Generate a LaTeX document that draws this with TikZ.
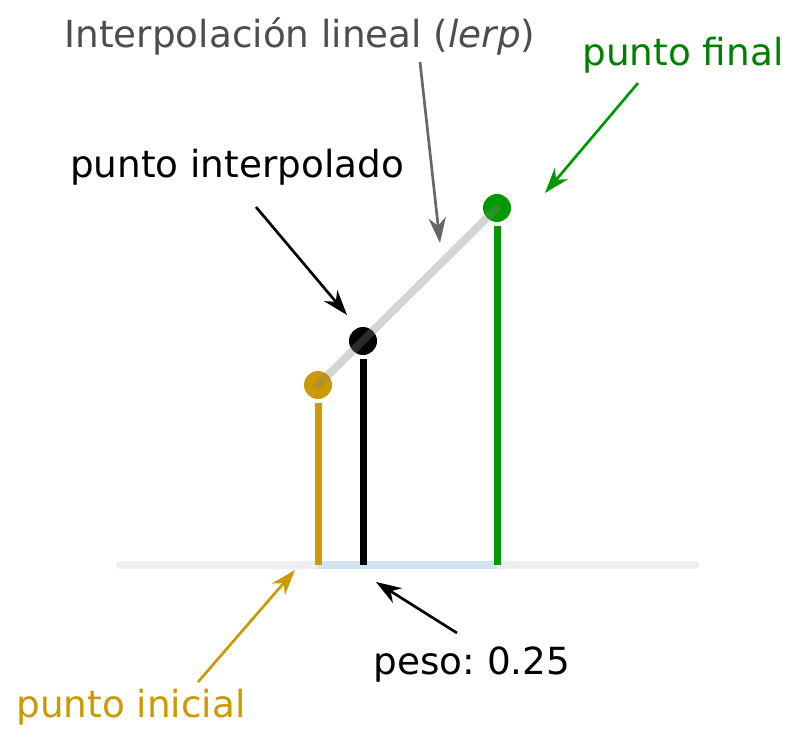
\documentclass[tikz,border=0pt]{standalone}
\usepackage{fontspec}
\setmainfont{DejaVu Sans}
\usepackage{xcolor}
\usepackage{tikz}
\definecolor{startcol}{RGB}{204, 153, 0}
\definecolor{endcol}{RGB}{0, 153, 0}
\definecolor{endtext}{RGB}{0, 128, 0}
\definecolor{lerptext}{RGB}{77, 77, 77}
\definecolor{lerparrow}{RGB}{102, 102, 102}
\definecolor{axisgray}{RGB}{238, 238, 238}
\definecolor{weightblue}{RGB}{208, 228, 240}
\usetikzlibrary{shapes,arrows.meta,positioning,calc}
\frenchspacing

\begin{document}
\begin{tikzpicture}[
    x=0.75pt, y=-0.75pt,
    dot/.style={
        circle,
        fill=#1,
        minimum size=21pt,
        inner sep=0pt
    },
    stem/.style={line width=5.25pt, #1, shorten >=3pt},
    label/.style={font=\fontsize{28}{34}\selectfont, inner sep=0pt},
    arrow/.style={-{Stealth[length=19pt,width=13pt,inset=6pt]},line width=2pt}
]
    \useasboundingbox (0,0) rectangle (800,745);

    % Axis
    \coordinate (axl) at (120,565);
    \coordinate (axr) at (695,565);
    \coordinate (base0) at (318,565);
    \coordinate (baset) at (363,565);
    \coordinate (base1) at (497,565);
    \draw[axisgray, line width=6pt, line cap=round] (axl) -- (axr);
    \draw[weightblue, line width=6pt] (base0) -- (base1);

    % Points
    \node[dot=startcol] (p0) at (318,385) {};
    \node[dot=black] (pt) at (363,341) {};
    \node[dot=endcol] (p1) at (497,208) {};

    % Stems
    \draw[stem=startcol] (base0) -- (p0);
    \draw[stem=black] (baset) -- (pt);
    \draw[stem=endcol] (base1) -- (p1);

    % Lerp line
    \draw[gray, opacity=0.33, line width=6pt, line cap=round] (p0.center) -- (p1.center);

    % Labels
    \node[label, text=lerptext] (lerp) at (300,36) {Interpolación lineal (\textit{lerp})};
    \node[label, text=black] (interp) at (237,167) {punto interpolado};
    \node[label, text=endtext] (final) at (683,55) {punto final};
    \node[label, text=startcol] (start) at (131,707) {punto inicial};
    \node[label, text=black] (weight) at (472,665) {peso: 0.25};

    % Arrows
    \coordinate (lerpa) at (420,62);
    \coordinate (lerpb) at (440,243);
    \coordinate (finala) at (638,83);
    \coordinate (finalb) at (545,193);
    \coordinate (interpa) at (256,207);
    \coordinate (interpb) at (347,315);
    \coordinate (starta) at (198,682);
    \coordinate (startb) at (295,570);
    \coordinate (weighta) at (457,633);
    \coordinate (weightb) at (376,582);
    \draw[arrow, lerparrow] (lerpa) -- (lerpb);
    \draw[arrow, endcol] (finala) -- (finalb);
    \draw[arrow, black] (interpa) -- (interpb);
    \draw[arrow, startcol] (starta) -- (startb);
    \draw[arrow, black] (weighta) -- (weightb);
\end{tikzpicture}
\end{document}
